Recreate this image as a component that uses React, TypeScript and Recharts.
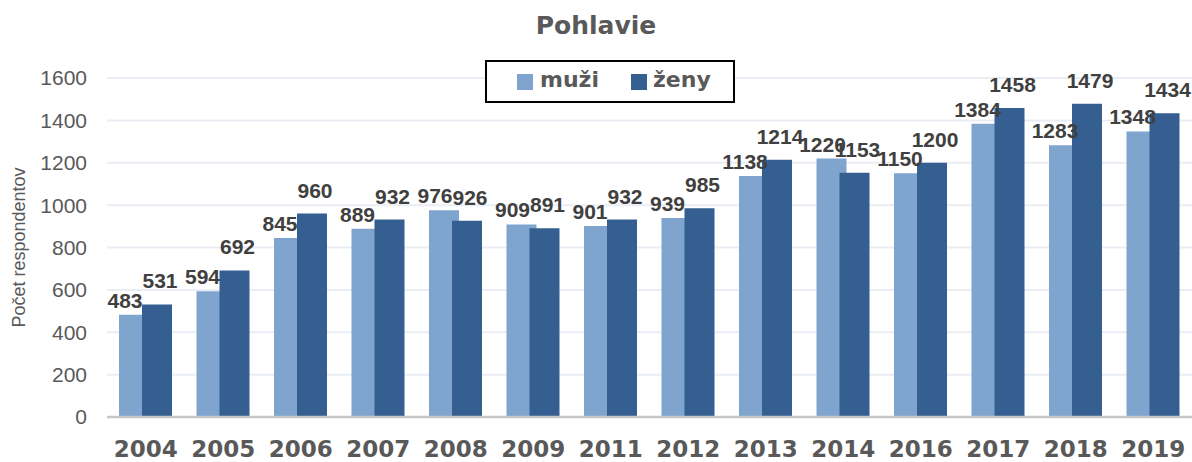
import React from "react";
import { BarChart, Bar, XAxis, YAxis, CartesianGrid, LabelList } from "recharts";

const years = ["2004", "2005", "2006", "2007", "2008", "2009", "2011", "2012", "2013", "2014", "2016", "2017", "2018", "2019"];
const muzi = [483, 594, 845, 889, 976, 909, 901, 939, 1138, 1220, 1150, 1384, 1283, 1348];
const zeny = [531, 692, 960, 932, 926, 891, 932, 985, 1214, 1153, 1200, 1458, 1479, 1434];
const yTicks = [0, 200, 400, 600, 800, 1000, 1200, 1400, 1600];

const data = years.map((y, i) => ({ year: y, muzi: muzi[i], zeny: zeny[i] }));

const LIGHT = "#7fa5cf";
const DARK = "#355f91";
const GREY = "#595959";
const ARIAL = "'Liberation Sans', Arial, sans-serif";
const HEAVY = "'DejaVu Sans', sans-serif";

const valueLabel = (dx: number, lift: number) => (p: any) => {
  const { x, y, width, value } = p;
  return (
    <text
      x={Number(x) + Number(width) / 2 + dx}
      y={Number(y) - lift}
      textAnchor="middle"
      fontFamily={ARIAL}
      fontWeight="bold"
      fontSize={21}
      fill="#404040"
    >
      {value}
    </text>
  );
};

const YTitle = ({ viewBox }: any) => {
  const cx = 19;
  const cy = viewBox ? viewBox.y + viewBox.height / 2 : 247;
  return (
    <text
      x={cx}
      y={cy}
      transform={`rotate(-90 ${cx} ${cy})`}
      textAnchor="middle"
      dominantBaseline="central"
      fontFamily={ARIAL}
      fontSize={18}
      fill={GREY}
    >
      Počet respondentov
    </text>
  );
};

export default function App() {
  return (
    <div style={{ position: "absolute", left: 0, top: 0, width: 1192, height: 462, background: "#fff" }}>
      <div
        style={{
          position: "absolute", left: 0, top: 11, width: 1192, textAlign: "center",
          fontFamily: HEAVY, fontWeight: "bold", fontSize: 25, color: GREY, lineHeight: "30px",
        }}
      >
        Pohlavie
      </div>

      <BarChart width={1192} height={462} data={data} barGap={-7} margin={{ top: 78, right: 0, left: 0, bottom: 0 }}>
        <CartesianGrid vertical={false} stroke="#e9eef5" strokeWidth={2} />
        <XAxis
          dataKey="year"
          height={45}
          tickLine={false}
          tickSize={0}
          tickMargin={24}
          axisLine={{ stroke: "#c6c6c6", strokeWidth: 2.5 }}
          tick={{ fontFamily: HEAVY, fontWeight: "bold", fontSize: 23, fill: GREY }}
          interval={0}
        />
        <YAxis
          width={107}
          domain={[0, 1600]}
          ticks={yTicks}
          axisLine={false}
          tickLine={false}
          tickSize={0}
          tickMargin={20}
          tick={{ fontFamily: ARIAL, fontSize: 21, fill: GREY }}
          label={<YTitle />}
        />
        <Bar dataKey="muzi" name="muži" fill={LIGHT} barSize={30} isAnimationActive={false}>
          <LabelList dataKey="muzi" content={valueLabel(-9, 7)} />
        </Bar>
        <Bar dataKey="zeny" name="ženy" fill={DARK} barSize={30} isAnimationActive={false}>
          <LabelList dataKey="zeny" content={valueLabel(3, 16)} />
        </Bar>
      </BarChart>

      <div
        style={{
          position: "absolute", left: 485, top: 60, width: 246, height: 39,
          border: "2px solid #000", background: "#fff",
          fontFamily: HEAVY, fontWeight: "bold", fontSize: 22, color: GREY,
        }}
      >
        <span style={{ position: "absolute", left: 30, top: 12, width: 16, height: 16, background: LIGHT }} />
        <span style={{ position: "absolute", left: 53, top: 3, lineHeight: "30px" }}>muži</span>
        <span style={{ position: "absolute", left: 144, top: 12, width: 16, height: 16, background: DARK }} />
        <span style={{ position: "absolute", left: 166, top: 3, lineHeight: "30px" }}>ženy</span>
      </div>
    </div>
  );
}
